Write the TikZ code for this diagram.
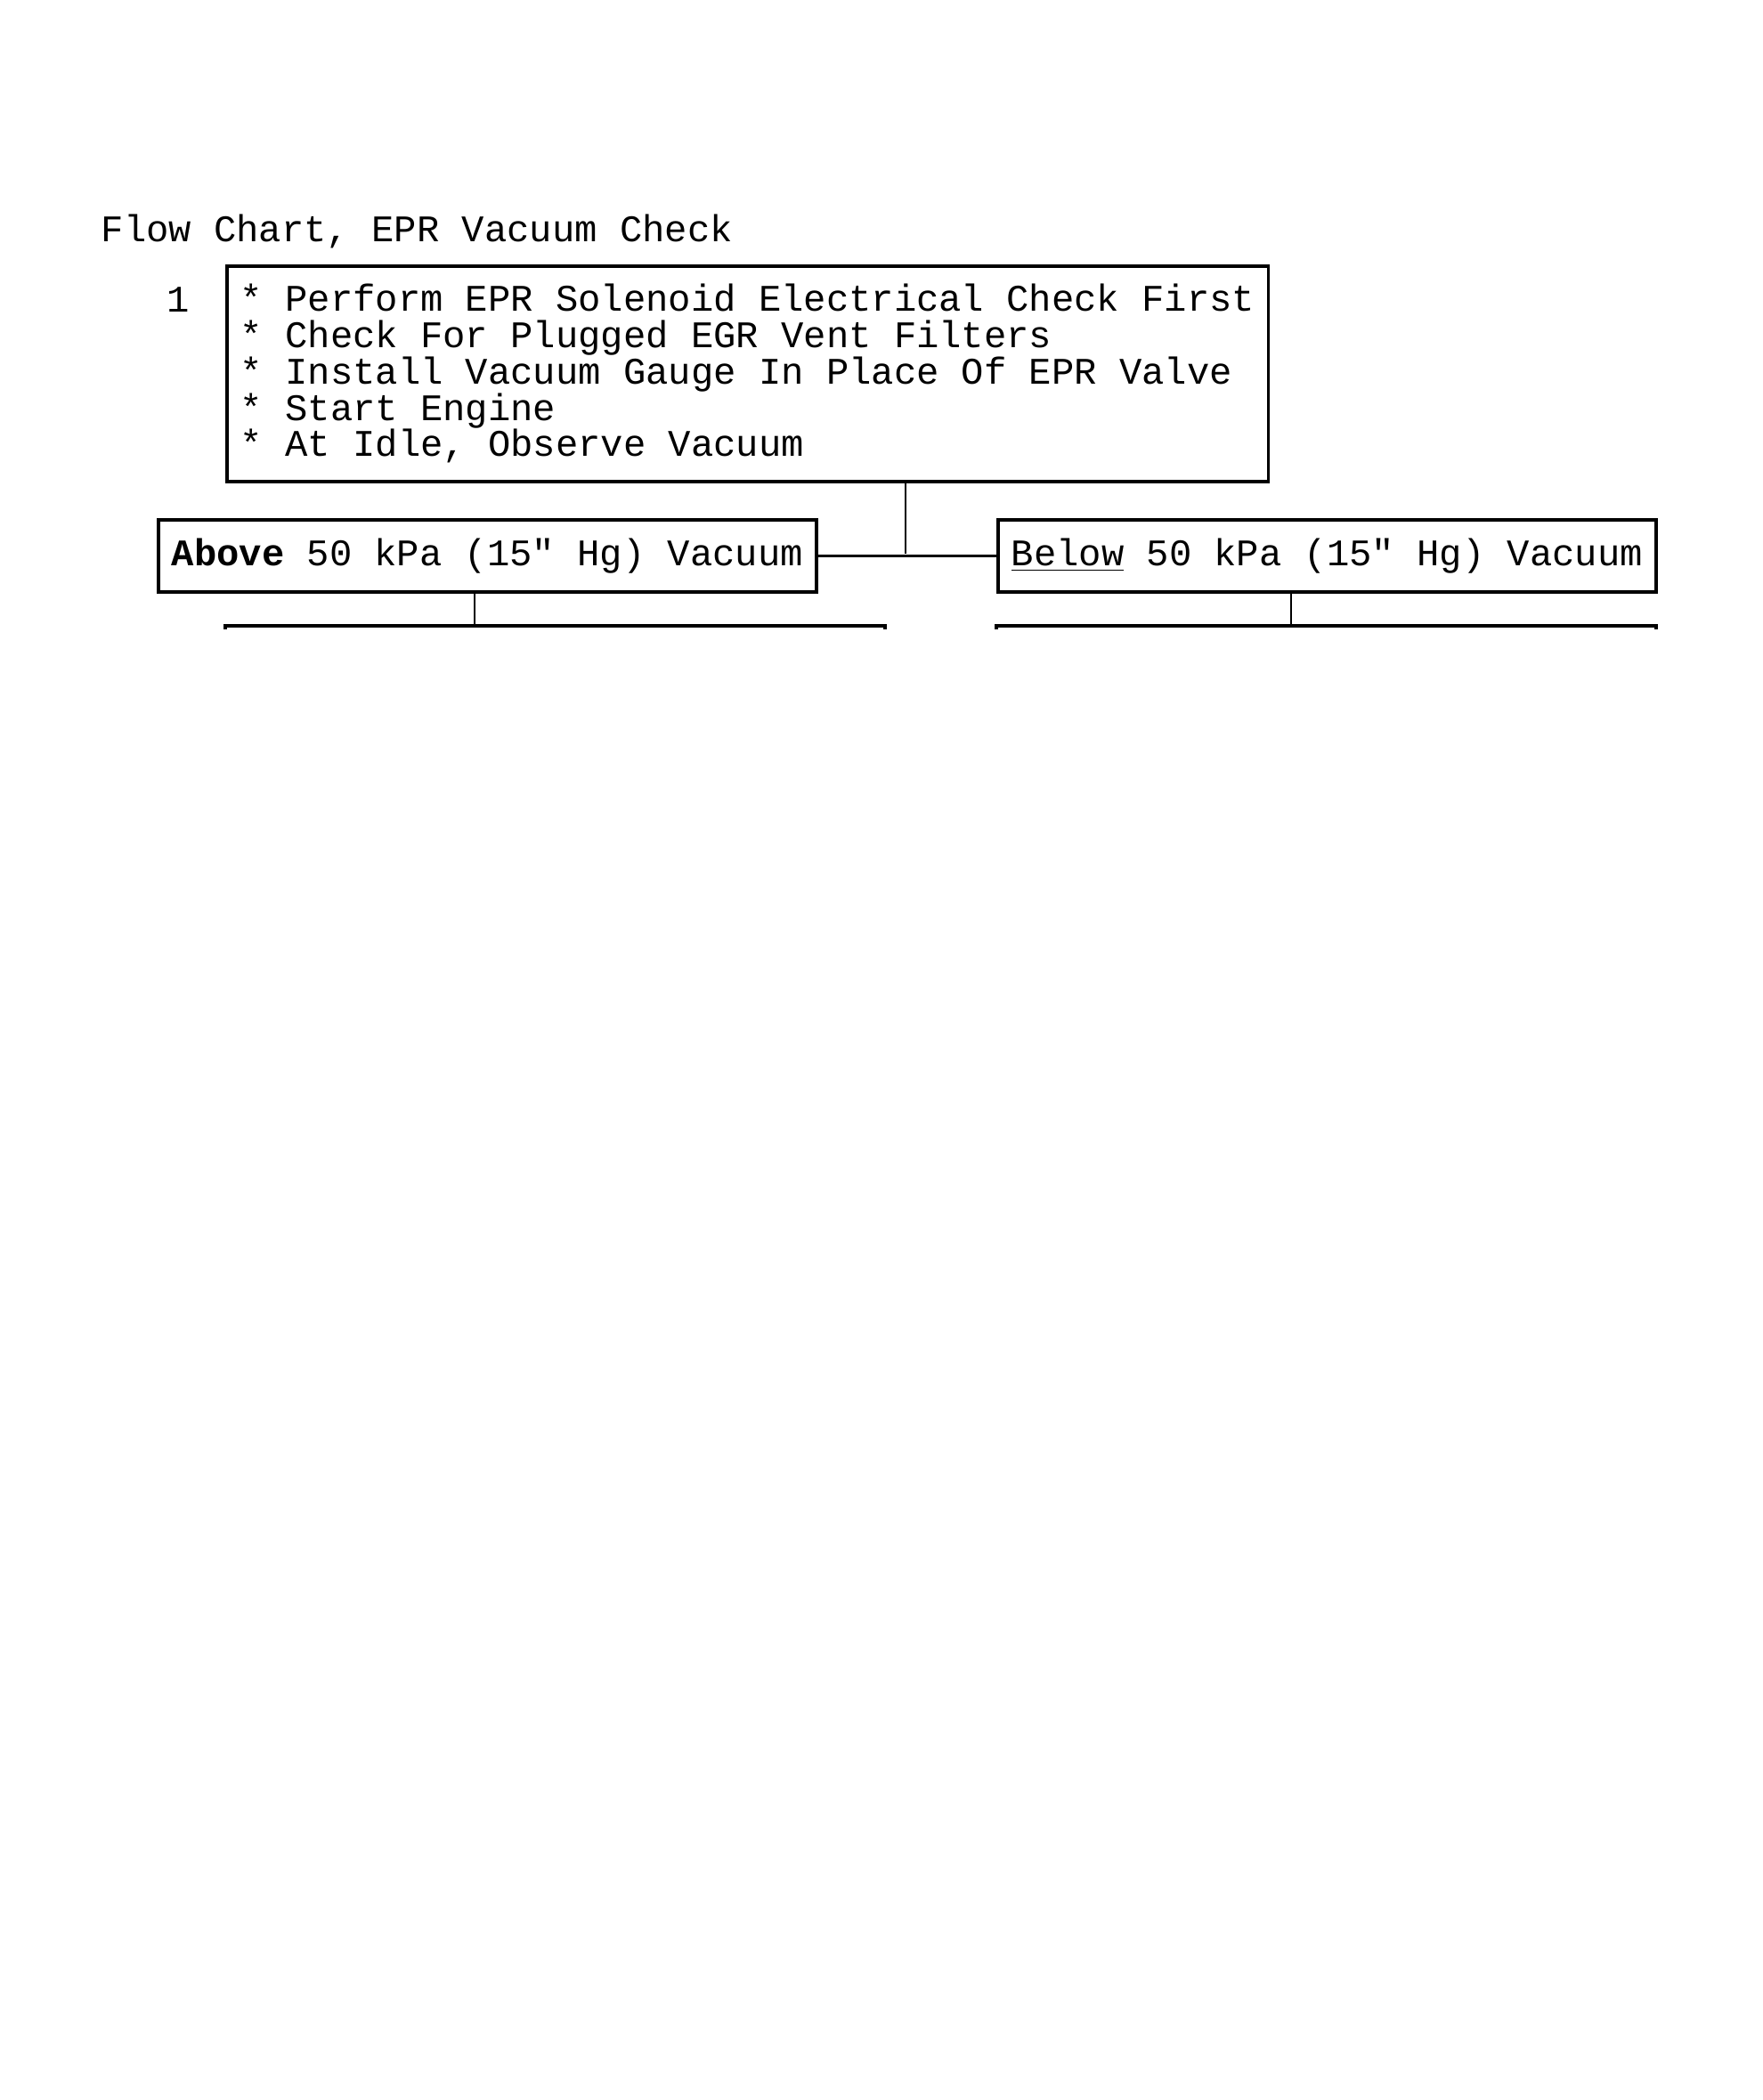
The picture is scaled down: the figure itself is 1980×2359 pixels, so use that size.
\documentclass[tikz,border=0pt]{standalone}
\usepackage{fontspec}
\setmonofont{Liberation Mono}
\usepackage{tikz}
\newcommand\chartfont{\ttfamily\fontsize{12pt}{11.6pt}\selectfont\lineskiplimit-10pt\relax}

\begin{document}
\begin{tikzpicture}[x=0.01cm,y=-0.01cm,
  txt/.style={font=\chartfont, inner sep=0pt},
  box/.style={draw, line width=1pt, txt, inner xsep=0.15cm, inner ysep=0pt, align=left},
  wire/.style={line width=0.8pt}]
\useasboundingbox (0,0) rectangle (1980,2359);

\node[txt, anchor=base west] (title) at (113,271) {Flow Chart, EPR Vacuum Check};
\node[txt, anchor=base] (num) at (200,350) {1};
\node[box, anchor=north west, minimum height=2.42cm] (check) at (253,297)
  {* Perform EPR Solenoid Electrical Check First\\
   * Check For Plugged EGR Vent Filters\\
   * Install Vacuum Gauge In Place Of EPR Valve\\
   * Start Engine\\
   * At Idle, Observe Vacuum};

\node[box, anchor=north west, minimum height=0.81cm] (above) at (176,582) {\textbf{Above} 50 kPa (15" Hg) Vacuum};
\node[box, anchor=north west, minimum height=0.81cm] (below) at (1119,582) {\underline{Below} 50 kPa (15" Hg) Vacuum};

\coordinate (split) at (1017,622);
\draw[wire] (above.east) -- (below.west);
\draw[wire] (check.south -| split) -- (split);

\coordinate (leftdrop) at (533,703);
\coordinate (rightdrop) at (1450,703);
\draw[wire] (above.south -| leftdrop) -- (leftdrop);
\draw[wire] (below.south -| rightdrop) -- (rightdrop);

% next boxes, only their tops are left
\draw[line width=1pt] (253,707) |- (994,703) -- (994,707);
\draw[line width=1pt] (1119,707) |- (1860,703) -- (1860,707);

\end{tikzpicture}
\end{document}
